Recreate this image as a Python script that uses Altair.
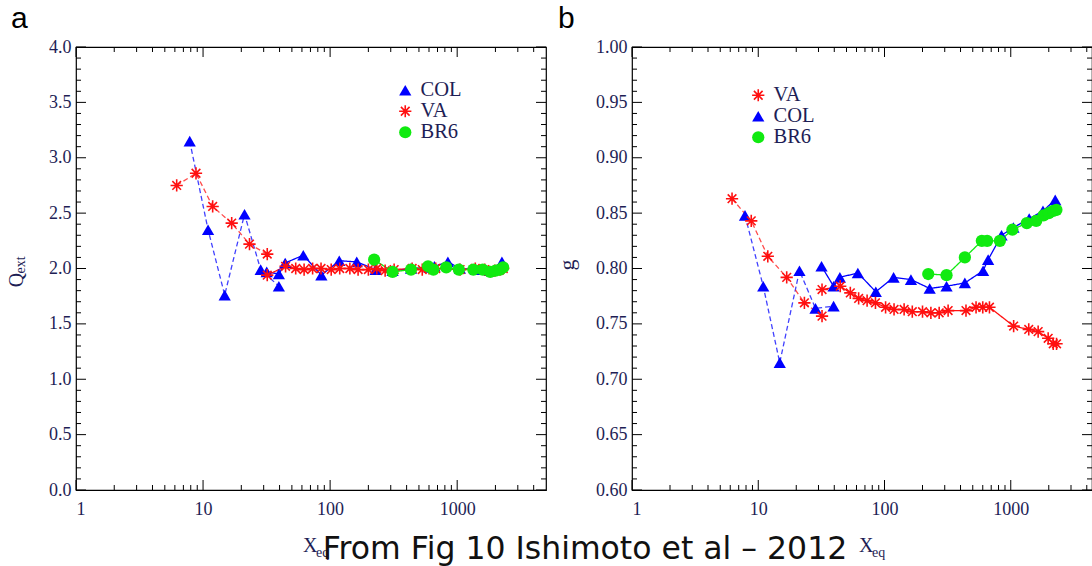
import math
import altair as alt
import pandas as pd

# ---------------- data ----------------
# Panel a : Q_ext vs X_eq
A_COL_DASH_X = [7.85, 10.95, 14.8, 21.2, 28.4, 39.5]
A_COL_DASH_Y = [3.15, 2.35, 1.76, 2.49, 1.99, 1.84]
A_COL_SOLID_X = [31.7, 39.5, 44.3, 61.5, 85.3, 118, 162, 228, 310, 433, 604, 662, 845, 1050, 1400, 1800, 2250]
A_COL_SOLID_Y = [1.97, 1.95, 2.05, 2.12, 1.94, 2.07, 2.06, 1.99, 1.98, 2.00, 2.01, 2.02, 2.06, 2.00, 1.99, 1.98, 2.06]
A_VA_DASH_X = [6.2, 8.8, 11.9, 16.8, 23.2, 32.0]
A_VA_DASH_Y = [2.75, 2.86, 2.56, 2.41, 2.22, 2.13]
A_VA_SOLID_X = [32.0, 44.6, 53.6, 62.4, 72.8, 84.8, 102, 119, 143, 166, 200, 233, 271, 319, 442, 531, 600, 678,
                1054, 1388, 1648, 1978, 2170, 2305]
A_VA_SOLID_Y = [1.94, 2.02, 2.00, 1.99, 2.00, 2.00, 1.99, 2.00, 2.00, 1.99, 1.99, 2.00, 1.98, 1.99, 2.00, 1.99,
                2.00, 2.00, 1.99, 2.00, 1.99, 1.98, 1.99, 2.00]
A_BR6_X = [222, 310, 433, 590, 650, 820, 1030, 1340, 1590, 1820, 2000, 2170, 2300]
A_BR6_Y = [2.08, 1.97, 1.99, 2.02, 1.99, 2.01, 1.99, 1.99, 1.99, 1.97, 1.98, 1.99, 2.01]

# Panel b : g vs X_eq
B_COL_DASH_X = [7.85, 10.95, 14.8, 21.2, 28.4, 39.5]
B_COL_DASH_Y = [0.848, 0.784, 0.715, 0.798, 0.764, 0.766]
B_COL_SOLID_X = [31.7, 39.5, 44.3, 61.5, 85.3, 118, 162, 228, 310, 433, 604, 662, 845, 1050, 1400, 1800, 2250]
B_COL_SOLID_Y = [0.802, 0.784, 0.792, 0.796, 0.779, 0.792, 0.790, 0.782, 0.784, 0.787, 0.798, 0.808, 0.830,
                 0.837, 0.845, 0.852, 0.862]
B_VA_DASH_X = [6.2, 8.8, 11.9, 16.8, 23.2, 32.0]
B_VA_DASH_Y = [0.863, 0.843, 0.811, 0.792, 0.769, 0.757]
B_VA_SOLID_X = [32.0, 44.6, 53.6, 62.4, 72.8, 84.8, 102, 119, 143, 166, 200, 233, 271, 319, 442, 531, 600, 678,
                1054, 1388, 1648, 1978, 2170, 2305]
B_VA_SOLID_Y = [0.781, 0.784, 0.778, 0.773, 0.771, 0.769, 0.765, 0.763, 0.763, 0.761, 0.761, 0.760, 0.760, 0.762,
                0.762, 0.765, 0.765, 0.765, 0.748, 0.745, 0.743, 0.737, 0.732, 0.732]
B_BR6_X = [222, 310, 433, 590, 650, 820, 1030, 1340, 1590, 1820, 2000, 2170, 2300]
B_BR6_Y = [0.795, 0.794, 0.810, 0.825, 0.825, 0.825, 0.835, 0.841, 0.843, 0.848, 0.850, 0.852, 0.853]

# axis tick labels
X_LABELS = [1, 10, 100, 1000]
A_Y_LABELS = [0.0, 0.5, 1.0, 1.5, 2.0, 2.5, 3.0, 3.5, 4.0]
B_Y_LABELS = [0.60, 0.65, 0.70, 0.75, 0.80, 0.85, 0.90, 0.95, 1.00]

SERIES_A = ["COL", "VA", "BR6"]
SERIES_B = ["VA", "COL", "BR6"]
SEGMENTS = ["COL-dash", "COL-solid", "VA-dash", "VA-solid", "BR6-solid"]
CAPTION = "From Fig 10 Ishimoto et al \u2013 2012"

# ---------------- styling ----------------
COLORS = {"COL": "#0000ff", "VA": "#ff1010", "BR6": "#10ea10"}
SIZES = {"COL": 150, "VA": 150, "BR6": 130}
LABEL_COLOR = "#1e1e55"
SERIF = "Liberation Serif"


def asterisk(w=0.26):
    parts = []
    for ang in (0, 45, 90, 135):
        t = math.radians(ang)
        c, s = math.cos(t), math.sin(t)
        pts = [(-1, -w / 2), (1, -w / 2), (1, w / 2), (-1, w / 2)]
        rp = [(x * c - y * s, x * s + y * c) for x, y in pts]
        parts.append("M" + "L".join(f"{x:.3f},{y:.3f}" for x, y in rp) + "Z")
    return "".join(parts)


SHAPES = {"COL": "triangle-up", "VA": asterisk(), "BR6": "circle"}


def make_df(groups):
    recs = []
    for series, style, xs, ys in groups:
        for x, y in zip(xs, ys):
            recs.append({"x": x, "y": y, "series": series, "seg": series + "-" + style, "style": style})
    return pd.DataFrame(recs)


def minor_between(lo, hi, step, majors):
    out = []
    n = int(round((hi - lo) / step))
    for i in range(n + 1):
        v = round(lo + i * step, 4)
        if all(abs(v - m) > 1e-6 for m in majors):
            out.append(v)
    return out


def panel(df, order, xmax, ydom, ylabels, yfmt, minor_step, W, H, leg, letter, ytitle_parts, caption):
    xs = alt.Scale(type="log", domain=[1, xmax], nice=False)
    ys = alt.Scale(domain=ydom, nice=False, zero=False)
    xaxis = alt.Axis(values=X_LABELS, format="d", title=None, ticks=False, domain=False, grid=False,
                     labelFont=SERIF, labelFontSize=18, labelColor=LABEL_COLOR, labelPadding=10)
    yaxis = alt.Axis(values=ylabels, format=yfmt, title=None, ticks=False, domain=False, grid=False,
                     labelFont=SERIF, labelFontSize=18, labelColor=LABEL_COLOR, labelPadding=5)

    def X(f):
        return alt.X(f, scale=xs, axis=xaxis)

    def Y(f):
        return alt.Y(f, scale=ys, axis=yaxis)

    base = alt.Chart(df)
    lines = base.mark_line(strokeWidth=1.3).encode(
        x=X("x:Q"), y=Y("y:Q"),
        stroke=alt.Stroke("seg:N", scale=alt.Scale(domain=SEGMENTS,
                                                   range=[COLORS[s.split("-")[0]] for s in SEGMENTS]), legend=None),
        strokeDash=alt.StrokeDash("style:N", scale=alt.Scale(domain=["dash", "solid"], range=[[5, 3], [1, 0]]),
                                  legend=None),
        strokeOpacity=alt.StrokeOpacity("style:N", scale=alt.Scale(domain=["dash", "solid"], range=[0.75, 1]),
                                        legend=None),
        order="x:Q",
    )
    points = base.mark_point(filled=True, opacity=1).encode(
        x=X("x:Q"), y=Y("y:Q"),
        color=alt.Color("series:N", scale=alt.Scale(domain=order, range=[COLORS[s] for s in order]), legend=leg),
        shape=alt.Shape("series:N", scale=alt.Scale(domain=order, range=[SHAPES[s] for s in order]), legend=leg),
        size=alt.Size("series:N", scale=alt.Scale(domain=order, range=[SIZES[s] for s in order]), legend=leg),
    )

    # inward ticks on all four sides
    xmaj = pd.DataFrame({"v": [v for v in X_LABELS if v <= xmax]})
    xmin = pd.DataFrame({"v": [m * d for d in (1, 10, 100, 1000) for m in range(2, 10) if m * d < xmax]})
    ymaj = pd.DataFrame({"v": ylabels})
    ymin = pd.DataFrame({"v": minor_between(ydom[0], ydom[1], minor_step, ylabels)})
    tick_layers = []
    for data, ln in ((xmaj, 10), (xmin, 5)):
        c = alt.Chart(data).mark_rule(color="black", strokeWidth=1)
        tick_layers.append(c.encode(x=X("v:Q"), y=alt.value(H), y2=alt.value(H - ln)))
        tick_layers.append(c.encode(x=X("v:Q"), y=alt.value(0), y2=alt.value(ln)))
    for data, ln in ((ymaj, 10), (ymin, 5)):
        c = alt.Chart(data).mark_rule(color="black", strokeWidth=1)
        tick_layers.append(c.encode(y=Y("v:Q"), x=alt.value(0), x2=alt.value(ln)))
        tick_layers.append(c.encode(y=Y("v:Q"), x=alt.value(W), x2=alt.value(W - ln)))

    def txt(t, x, y, size, font=SERIF, color=LABEL_COLOR, angle=0, align="left"):
        return alt.Chart(pd.DataFrame({"t": [t]})).mark_text(
            font=font, fontSize=size, color=color, angle=angle, align=align, baseline="alphabetic"
        ).encode(text="t:N", x=alt.value(x), y=alt.value(y))

    texts = [
        txt(letter[0], letter[1], -19, 30, font="Liberation Sans", color="black"),
        txt("X", 227, 505, 20),
        txt("eq", 240, 510, 14),
    ]
    for t, x, y, s in ytitle_parts:
        texts.append(txt(t, x, y, s, angle=270, align="center"))
    if caption:
        texts.append(txt(caption, 509, 512, 31.5, font="DejaVu Sans", color="#111111", align="center"))

    return alt.layer(*tick_layers, lines, points, *texts).properties(width=W, height=H)


df_a = make_df([
    ("COL", "dash", A_COL_DASH_X, A_COL_DASH_Y),
    ("COL", "solid", A_COL_SOLID_X, A_COL_SOLID_Y),
    ("VA", "dash", A_VA_DASH_X, A_VA_DASH_Y),
    ("VA", "solid", A_VA_SOLID_X, A_VA_SOLID_Y),
    ("BR6", "solid", A_BR6_X, A_BR6_Y),
])
df_b = make_df([
    ("COL", "dash", B_COL_DASH_X, B_COL_DASH_Y),
    ("COL", "solid", B_COL_SOLID_X, B_COL_SOLID_Y),
    ("VA", "dash", B_VA_DASH_X, B_VA_DASH_Y),
    ("VA", "solid", B_VA_SOLID_X, B_VA_SOLID_Y),
    ("BR6", "solid", B_BR6_X, B_BR6_Y),
])

leg_kw = dict(title=None, orient="none", labelFont=SERIF, labelFontSize=20.5, labelColor=LABEL_COLOR,
              labelOffset=5, rowPadding=0, padding=0)
leg_a = alt.Legend(legendX=319, legendY=33, **leg_kw)
leg_b = alt.Legend(legendX=116, legendY=38, **leg_kw)

pa = panel(df_a, SERIES_A, 5000, [0, 4.0], A_Y_LABELS, ".1f", 0.1, 470, 443, leg_a,
           ("a", -65), [("Q", -53, 233, 20), ("ext", -51, 218, 14)], CAPTION)
pb = panel(df_b, SERIES_B, 4400, [0.60, 1.00], B_Y_LABELS, ".2f", 0.01, 460, 443, leg_b,
           ("b", -74), [("g", -58, 218, 22)], None)

chart = alt.hconcat(pa, pb, spacing=86, bounds="flush").resolve_scale(
    color="independent", shape="independent", size="independent", stroke="independent",
    strokeDash="independent", strokeOpacity="independent", x="independent", y="independent"
).properties(
    autosize=alt.AutoSizeParams(type="none"),
    padding={"left": 76, "top": 47, "right": 1016, "bottom": 519},
    background="white",
).configure_view(stroke="black", strokeWidth=1.2).configure_axis(grid=False)

chart.save("out.html", embed_options={"renderer": "svg", "actions": False})
